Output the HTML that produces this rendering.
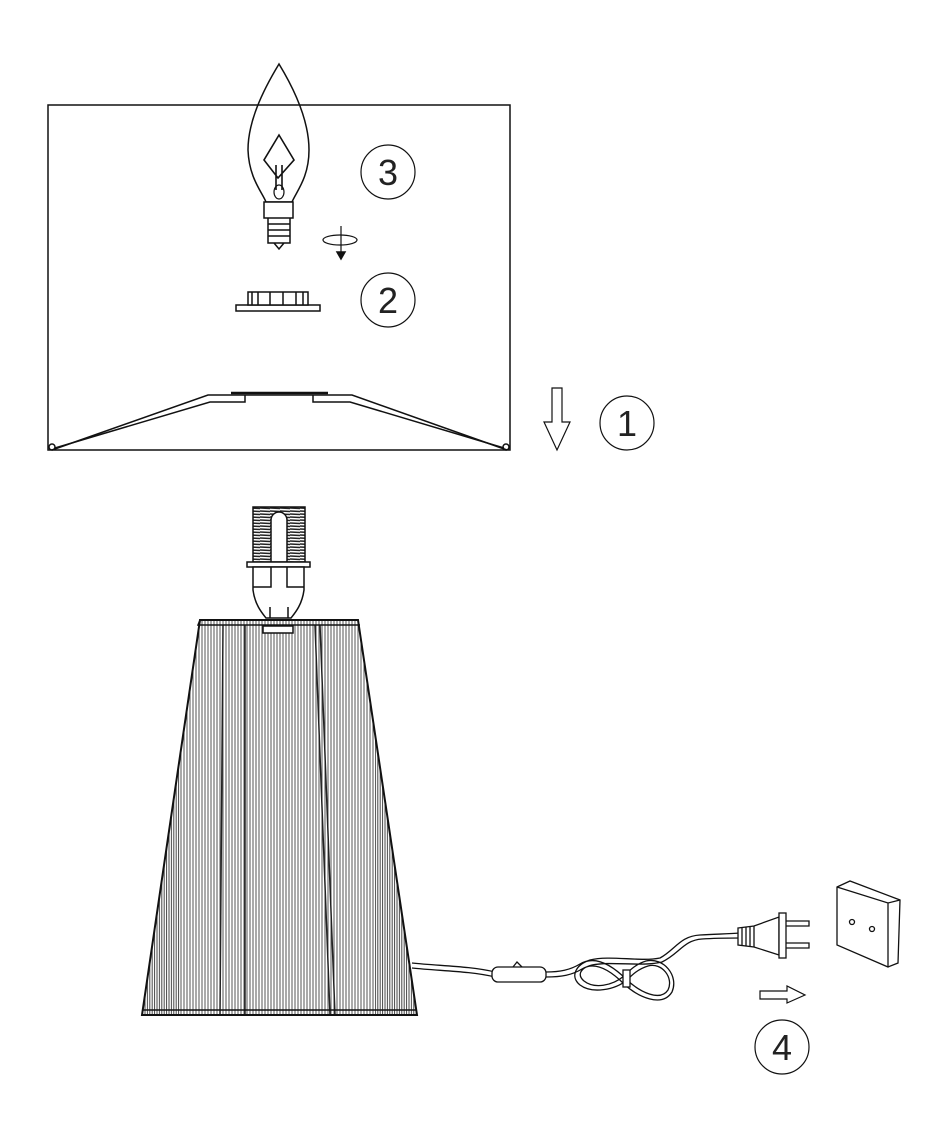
<!DOCTYPE html>
<html><head><meta charset="utf-8"><style>html,body{margin:0;padding:0;background:#fff}svg{display:block}</style></head>
<body>
<svg width="940" height="1130" viewBox="0 0 940 1130" xmlns="http://www.w3.org/2000/svg" font-family="Liberation Sans, sans-serif">
<defs>
<pattern id="vl" width="3" height="10" patternUnits="userSpaceOnUse"><rect width="3" height="10" fill="#fff"/><line x1="1" y1="0" x2="1" y2="10" stroke="#555" stroke-width="1"/></pattern>
<pattern id="vd" width="2.4" height="10" patternUnits="userSpaceOnUse"><rect width="2.4" height="10" fill="#fff"/><line x1="1" y1="0" x2="1" y2="10" stroke="#444" stroke-width="1"/></pattern>
<pattern id="thr" width="10" height="3" patternUnits="userSpaceOnUse"><rect width="10" height="3" fill="#fff"/><line x1="0" y1="1" x2="10" y2="1.5" stroke="#222" stroke-width="1.6"/></pattern>
<clipPath id="cone"><path d="M200,620 L358,620 L417,1015 L142,1015 Z"/></clipPath>
</defs>
<g fill="none" stroke="#111" stroke-width="1.5">
<!-- shade -->
<rect x="48" y="105" width="462" height="345" fill="#fff"/>
<path d="M52,450 L208,395 L352,395 L507,450"/>
<path d="M55,448 L210,402 L245,402 L245,395 M313,395 L313,402 L350,402 L504,448"/>
<path d="M231,393 L328,393" stroke-width="2.5"/>
<circle cx="52" cy="447" r="3"/><circle cx="506" cy="447" r="3"/>
<!-- bulb -->
<path d="M279,64 C262,92 248,122 248,150 C249,178 262,192 266,202 L292,202 C296,192 309,178 309,150 C309,122 296,92 279,64 Z"/>
<rect x="264" y="202" width="29" height="16" fill="#fff"/>
<path d="M268,218 L268,243 L290,243 L290,218 M268,224 L290,224 M268,230 L290,230 M268,236 L290,236 M274,243 L279,249 L284,243"/>
<path d="M279,135 L264,160 L278,178 L294,160 Z M276,165 L276,190 M282,165 L282,190" stroke-width="1.6"/>
<ellipse cx="279" cy="192" rx="5" ry="7" stroke-width="1.2"/>
<!-- rotation icon -->
<ellipse cx="340" cy="240" rx="17" ry="5" stroke-width="1.2"/>
<path d="M341,226 L341,254" stroke-width="1.2"/>
<path d="M337,252 L345,252 L341,259 Z" fill="#111"/>
<!-- part 2 -->
<rect x="236" y="305" width="84" height="6" fill="#fff"/>
<rect x="248" y="292" width="60" height="13" fill="#fff"/>
<path d="M252,292 V305 M258,292 V305 M270,292 V305 M283,292 V305 M296,292 V305 M303,292 V305"/>
<!-- circles -->
<circle cx="388" cy="172" r="27" stroke-width="1.2"/>
<circle cx="388" cy="300" r="27" stroke-width="1.2"/>
<circle cx="627" cy="423" r="27" stroke-width="1.2"/>
<circle cx="782" cy="1047" r="27" stroke-width="1.2"/>
<!-- arrow 1 -->
<path d="M552,388 L562,388 L562,422 L570,422 L557,450 L544,422 L552,422 Z" stroke-width="1.2"/>
<!-- arrow 4 -->
<path d="M760,991 L787,991 L787,986 L805,995 L787,1003 L787,999 L760,999 Z" stroke-width="1.2"/>
</g>
<g font-size="36" fill="#222" text-anchor="middle" font-weight="300">
<text x="388" y="185">3</text><text x="388" y="313">2</text><text x="627" y="436">1</text><text x="782" y="1060">4</text>
</g>
<!-- socket -->
<g stroke="#111" stroke-width="1.5">
<rect x="253" y="507" width="52" height="55" fill="url(#thr)"/>
<path d="M271,562 L271,520 A8,8 0 0 1 287,520 L287,562 Z" fill="#fff"/>
<rect x="247" y="562" width="63" height="5" fill="#fff"/>
<path d="M253,567 L253,590 C255,605 262,613 266,618 L291,618 C295,613 302,605 304,590 L304,567 Z" fill="#fff"/>
<path d="M253,587 L271,587 L271,567 M304,587 L287,587 L287,567" fill="none"/>
<path d="M270,607 L270,618 M288,607 L288,618" fill="none"/>
</g>
<!-- cone -->
<g clip-path="url(#cone)">
<rect x="130" y="615" width="300" height="405" fill="url(#vl)"/>
<rect x="130" y="615" width="50" height="405" fill="url(#vd)"/>
<rect x="375" y="615" width="50" height="405" fill="url(#vd)"/>
<path d="M223,625 L220,1015 M245,625 L245,1015 M320,625 L335,1015 M315,625 L330,1015" stroke="#222" stroke-width="1.5"/>
</g>
<g fill="none" stroke="#111" stroke-width="2">
<path d="M200,620 L358,620 L417,1015 L142,1015 Z"/>
<path d="M200,620 L198,625 L360,625 M142,1010 L417,1010" stroke-width="1.5"/>
<rect x="263" y="626" width="30" height="7" fill="#fff" stroke-width="1.5"/>
</g>
<!-- cord -->
<g fill="none" stroke="#111" stroke-width="1.3">
<path d="M412,963 C440,966 470,966 495,972 M412,968 C440,971 470,971 495,977"/>
<rect x="492" y="967" width="54" height="15" rx="6" fill="#fff"/>
<path d="M513,967 L517,962 L522,967"/>
<!-- loop -->
<g>
<path d="M546,972 C560,972 570,970 580,964 C595,955 612,965 627,980 C640,992 660,1002 668,990 C674,978 662,962 648,966 C638,969 632,975 627,980 C615,990 592,994 580,985 C570,977 575,965 590,960 C610,955 640,962 660,958 C675,950 680,936 700,935 C715,934 728,934 740,933"/>
<path d="M546,977 C562,977 572,975 582,969 C595,961 610,970 624,984 C638,997 662,1008 672,992 C679,976 664,957 646,961 C636,964 630,970 624,976 C612,986 594,989 584,981 C577,975 580,968 592,965 C612,961 642,967 662,962 C679,954 684,940 702,939 C716,938 728,938 740,938"/>
<rect x="623" y="970" width="7" height="17" fill="#fff"/>
</g>
<!-- plug -->
<path d="M738,928 L754,926 L779,917 L779,955 L754,947 L738,945 Z" fill="#fff"/>
<path d="M742,928 V945 M746,927 V946 M750,927 V946 M754,926 V947"/>
<rect x="779" y="913" width="7" height="45" fill="#fff"/>
<path d="M786,921 H809 V926 H786 M786,943 H809 V948 H786"/>
<!-- wall socket -->
<path d="M837,887 L850,881 L900,900 L898,963 L888,967 L837,945 Z" fill="#fff"/>
<path d="M837,887 L888,903 L900,900 M888,903 L888,967"/>
<circle cx="852" cy="922" r="2.5"/><circle cx="872" cy="929" r="2.5"/>
</g>
</svg>
</body></html>
